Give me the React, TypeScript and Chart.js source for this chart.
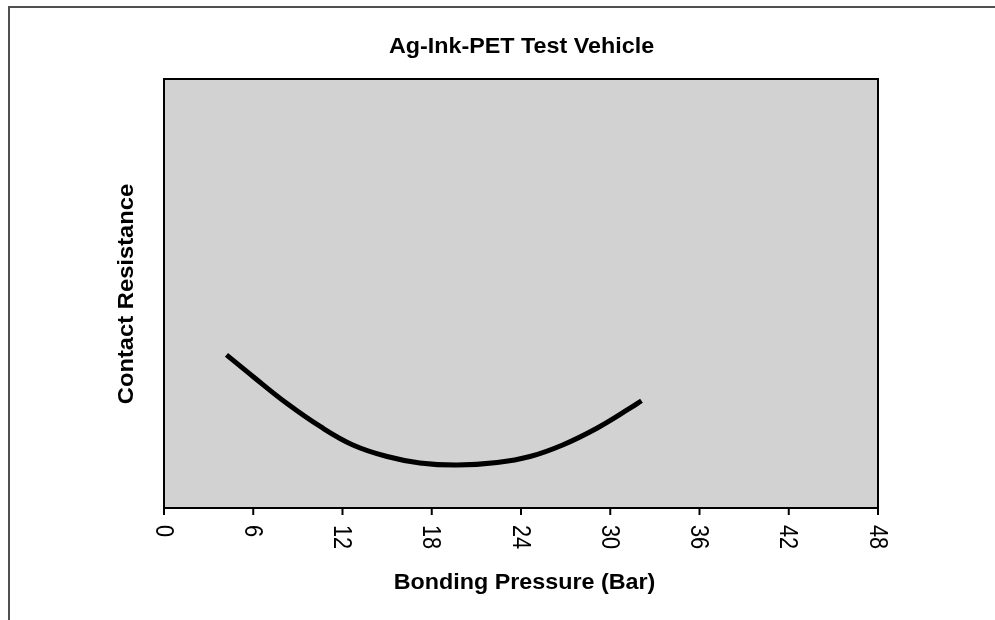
import React, { useEffect, useRef } from "react";
import { Chart, registerables } from "chart.js";

Chart.register(...registerables);

const chartTitle = "Ag-Ink-PET Test Vehicle";
const xAxisTitle = "Bonding Pressure (Bar)";
const yAxisTitle = "Contact Resistance";

// Bonding pressure (Bar)
const pressure = [4.2, 6.0, 8.25, 10.5, 12.7, 15.0, 17.2, 19.7, 22.4, 24.6, 26.8, 29.1, 31.3, 32.1];
// Contact resistance (arbitrary units, no scale shown)
const resistance = [35.7, 30.6, 24.4, 19.0, 14.7, 12.0, 10.5, 10.0, 10.6, 12.0, 14.7, 18.6, 23.2, 25.0];

const xMin = 0;
const xMax = 48;
const xStep = 6;

const decorPlugin = {
  id: "decor",
  beforeDraw(chart: any) {
    const ctx = chart.ctx;
    const a = chart.chartArea;
    ctx.save();
    ctx.fillStyle = "#ffffff";
    ctx.fillRect(0, 0, chart.width, chart.height);
    ctx.strokeStyle = "#505050";
    ctx.lineWidth = 2;
    ctx.strokeRect(9, 7, 2000, 2000);
    ctx.fillStyle = "#d2d2d2";
    ctx.fillRect(a.left, a.top, a.right - a.left, a.bottom - a.top);
    ctx.restore();
  },
  afterDraw(chart: any) {
    const ctx = chart.ctx;
    const a = chart.chartArea;
    const xs = chart.scales.x;
    ctx.save();
    ctx.strokeStyle = "#000";
    ctx.lineWidth = 2;
    ctx.strokeRect(a.left, a.top, a.right - a.left, a.bottom - a.top);
    ctx.fillStyle = "#000";
    ctx.font = "25px 'Liberation Sans', Arial, sans-serif";
    ctx.textAlign = "left";
    ctx.textBaseline = "alphabetic";
    for (const t of xs.ticks) {
      const px = xs.getPixelForValue(t.value);
      ctx.beginPath();
      ctx.moveTo(px, a.bottom);
      ctx.lineTo(px, a.bottom + 7);
      ctx.stroke();
      ctx.save();
      ctx.translate(px, a.bottom + 17);
      ctx.rotate(Math.PI / 2);
      ctx.scale(0.87, 1);
      ctx.fillText(String(t.value), 0, 8.5);
      ctx.restore();
    }
    ctx.font = "bold 22px 'Liberation Sans', Arial, sans-serif";
    ctx.textAlign = "center";
    ctx.save();
    ctx.translate((a.left + a.right) / 2 + 0.5, 53);
    ctx.scale(1.06, 1);
    ctx.fillText(chartTitle, 0, 0);
    ctx.restore();

    ctx.save();
    ctx.translate((a.left + a.right) / 2 + 3.5, 588.5);
    ctx.scale(1.06, 1);
    ctx.fillText(xAxisTitle, 0, 0);
    ctx.restore();

    ctx.save();
    ctx.translate(132.5, (a.top + a.bottom) / 2 + 0.5);
    ctx.rotate(-Math.PI / 2);
    ctx.scale(1.08, 1);
    ctx.fillText(yAxisTitle, 0, 0);
    ctx.restore();
    ctx.restore();
  },
};

export default function App() {
  const ref = useRef<HTMLCanvasElement | null>(null);
  useEffect(() => {
    if (!ref.current) return;
    const chart = new Chart(ref.current, {
      type: "line",
      data: {
        datasets: [
          {
            data: pressure.map((x, i) => ({ x, y: resistance[i] })),
            borderColor: "#000",
            borderWidth: 5,
            pointRadius: 0,
            tension: 0.4,
            fill: false,
          },
        ],
      },
      options: {
        responsive: false,
        animation: false,
        events: [],
        layout: { padding: { left: 164, right: 117, top: 79, bottom: 112 } },
        plugins: { legend: { display: false }, tooltip: { enabled: false }, title: { display: false } },
        scales: {
          x: {
            type: "linear",
            min: xMin,
            max: xMax,
            ticks: { stepSize: xStep, display: false },
            grid: { display: false },
            border: { display: false },
            afterFit: (s: any) => {
              s.height = 0;
            },
          },
          y: { display: false, min: 0, max: 100 },
        },
      },
      plugins: [decorPlugin],
    } as any);
    return () => chart.destroy();
  }, []);
  return (
    <div style={{ position: "fixed", left: 0, top: 0, width: 995, height: 620 }}>
      <canvas ref={ref} width={995} height={620} style={{ display: "block" }} />
    </div>
  );
}
